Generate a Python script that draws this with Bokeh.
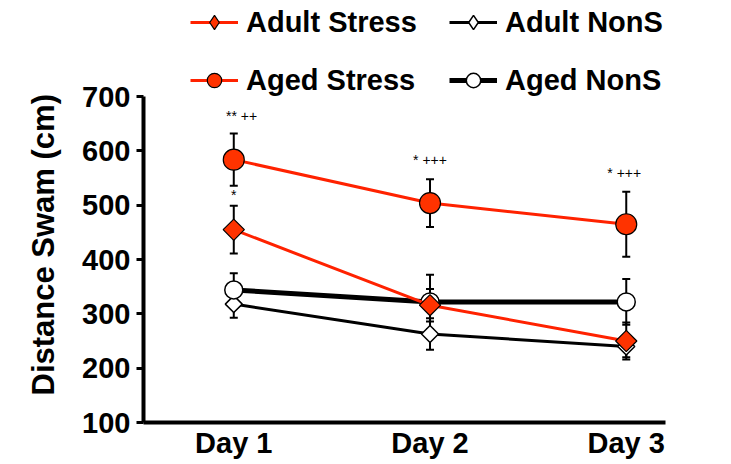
import math
from bokeh.plotting import figure
from bokeh.models import ColumnDataSource, Whisker, TeeHead, Legend, LegendItem, FixedTicker, Title
from bokeh.core.properties import value
from bokeh.embed import file_html
from bokeh.resources import INLINE

days = [1, 2, 3]
day_labels = ["Day 1", "Day 2", "Day 3"]
adult_stress = [455, 316, 250]
adult_stress_err = [44, 30, 34]
adult_nons = [318, 263, 240]
adult_nons_err = [25, 29, 20]
aged_stress = [584, 504, 465]
aged_stress_err = [48, 44, 60]
aged_nons = [344, 322, 322]
aged_nons_err = [31, 50, 42]
y_ticks = [100, 200, 300, 400, 500, 600, 700]
annot_x = [1.04, 2.0, 2.99, 1.0]
annot_y = [665, 584, 559, 518]
annot_text = ["** ++", "* +++", "* +++", "*"]

FONT = "Liberation Sans"
RED = "#FF3300"
REDLINE = "#FF2200"

# frame extends above the 700 tick to leave room for the legend; the y axis is bounded to 100-700
p = figure(width=731, height=464, x_range=(0.54, 3.2), y_range=(100, 877),
           output_backend="svg", toolbar_location=None,
           min_border_left=143, min_border_right=66, min_border_top=0, min_border_bottom=42)
p.outline_line_color = None
p.xgrid.visible = False
p.ygrid.visible = False

def src(vals, errs):
    return ColumnDataSource(dict(x=days, y=vals,
                                 upper=[v + e for v, e in zip(vals, errs)],
                                 lower=[v - e for v, e in zip(vals, errs)]))

s_as = src(adult_stress, adult_stress_err)
s_an = src(adult_nons, adult_nons_err)
s_gs = src(aged_stress, aged_stress_err)
s_gn = src(aged_nons, aged_nons_err)

for s in (s_an, s_gn, s_as, s_gs):
    w = Whisker(source=s, base="x", upper="upper", lower="lower",
                line_color="black", line_width=2,
                upper_head=TeeHead(size=8, line_color="black", line_width=2),
                lower_head=TeeHead(size=8, line_color="black", line_width=2))
    p.add_layout(w)

D45 = math.pi / 4
l_an = p.line("x", "y", source=s_an, line_color="black", line_width=3)
m_an = p.scatter("x", "y", source=s_an, marker="square", angle=D45, size=12,
                 fill_color="white", line_color="black", line_width=1.5)
l_gn = p.line("x", "y", source=s_gn, line_color="black", line_width=5)
m_gn = p.scatter("x", "y", source=s_gn, marker="circle", size=18,
                 fill_color="white", line_color="black", line_width=1.5)
l_as = p.line("x", "y", source=s_as, line_color=REDLINE, line_width=3)
m_as = p.scatter("x", "y", source=s_as, marker="square", angle=D45, size=15,
                 fill_color=RED, line_color="black", line_width=1.2)
l_gs = p.line("x", "y", source=s_gs, line_color=REDLINE, line_width=3)
m_gs = p.scatter("x", "y", source=s_gs, marker="circle", size=21,
                 fill_color=RED, line_color="black", line_width=1.2)
# diamond keys for the legend (legend sizes its own markers)
k_an = p.scatter("x", "y", source=s_an, marker="diamond", size=0,
                 fill_color="white", line_color="black", line_width=1.5)
k_as = p.scatter("x", "y", source=s_as, marker="diamond", size=0,
                 fill_color=RED, line_color="black", line_width=1.2)

p.text(x=annot_x, y=annot_y, text=annot_text, text_font=value(FONT),
       text_font_size="14px", text_align="center", text_baseline="middle",
       text_color="black")

legend = Legend(items=[
    LegendItem(label="Adult Stress", renderers=[l_as, k_as]),
    LegendItem(label="Aged Stress", renderers=[l_gs, m_gs]),
    LegendItem(label="Adult NonS", renderers=[l_an, k_an]),
    LegendItem(label="Aged NonS", renderers=[l_gn, m_gn]),
], nrows=2, border_line_color=None, background_fill_alpha=0,
    padding=0, margin=0, spacing=22, glyph_width=48, glyph_height=36,
    label_text_font=FONT, label_text_font_style="bold", label_text_font_size="29px",
    label_text_color="black", label_standoff=8, label_width=181, label_height=36)
legend.location = (47, 324)
p.add_layout(legend, "center")

p.xaxis.ticker = FixedTicker(ticks=days)
p.xaxis.major_label_overrides = {d: l for d, l in zip(days, day_labels)}
p.yaxis.ticker = FixedTicker(ticks=y_ticks)
p.yaxis.bounds = (100, 700)
for ax in (p.xaxis, p.yaxis):
    ax.axis_line_width = 4
    ax.axis_line_color = "black"
    ax.major_label_text_font = FONT
    ax.major_label_text_font_style = "bold"
    ax.major_label_text_font_size = "29px"
    ax.major_label_text_color = "black"
    ax.minor_tick_line_color = None
    ax.major_tick_in = 0
p.xaxis.major_tick_out = 0
p.xaxis.major_label_standoff = 4
p.yaxis.major_tick_out = 7
p.yaxis.major_tick_line_width = 3
p.yaxis.major_label_standoff = 6

ytitle = Title(text="Distance Swam (cm)", align="left", vertical_align="top",
               offset=27, standoff=34,
               text_font=FONT, text_font_style="bold", text_font_size="31px",
               text_color="black")
p.add_layout(ytitle, "left")

open("out.html", "w").write(file_html(p, INLINE))
